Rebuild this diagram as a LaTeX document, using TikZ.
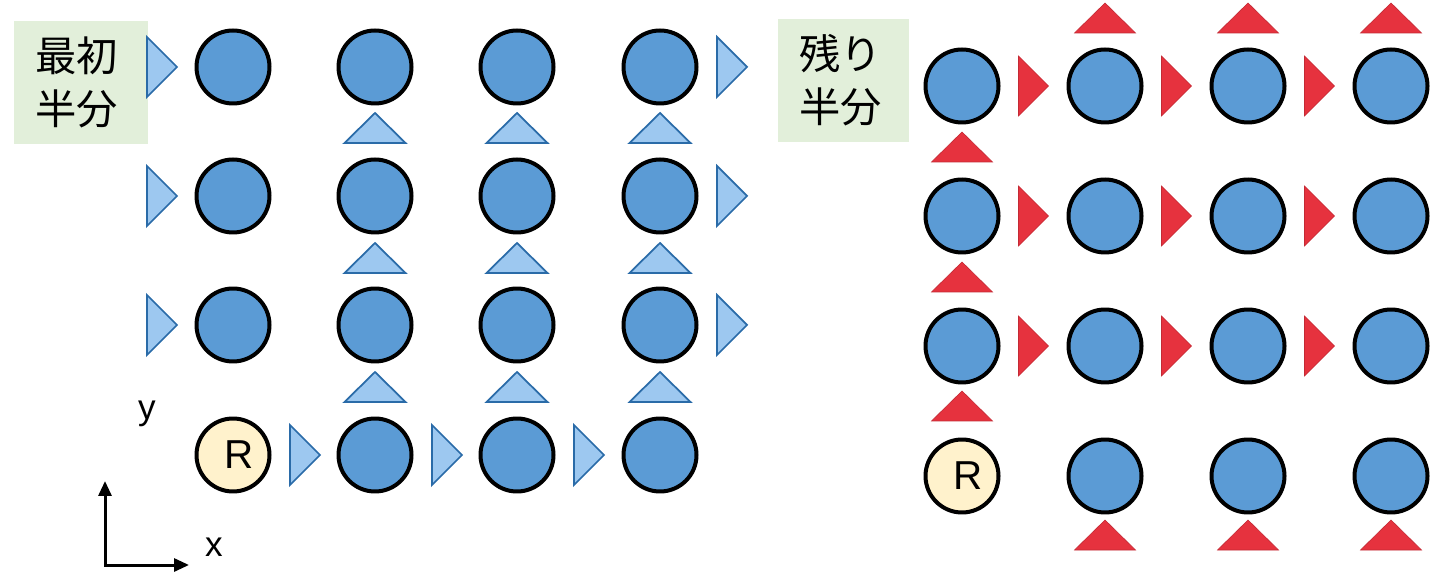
\documentclass[tikz,border=0pt]{standalone}
\usepackage{fontspec}
\setmainfont{Liberation Sans}
\newfontfamily\jpfont{Noto Sans CJK JP}
\usetikzlibrary{arrows.meta}
\definecolor{cblue}{HTML}{5B9BD5}
\definecolor{tblue}{HTML}{9DC8F0}
\definecolor{tbluedraw}{HTML}{2A6BA8}
\definecolor{tred}{HTML}{E6323E}
\definecolor{cream}{HTML}{FFF2CC}
\definecolor{boxgreen}{HTML}{E2EFDA}
\newcommand\RTri[3]{\path[#1,shift={(#2,#3)}] (-15,-30) -- (15,0) -- (-15,30) -- cycle;}
\newcommand\UTri[3]{\path[#1,shift={(#2,#3)}] (0,-15) -- (30.5,15) -- (-30.5,15) -- cycle;}
\begin{document}
\begin{tikzpicture}[x=0.02cm,y=-0.02cm,
  dot/.style={circle, draw=black, line width=0.08cm, fill=cblue, minimum size=1.46cm, inner sep=0pt},
  rdot/.style={dot, fill=cream, font=\fontsize{23}{23}\selectfont},
  bluetri/.style={fill=tblue, draw=tbluedraw, line width=0.035cm, line join=miter},
  redtri/.style={fill=tred, draw=tred!85!black, line width=0.012cm},
  titlebox/.style={rectangle, fill=boxgreen, minimum height=2.46cm, inner xsep=0.42cm, inner ysep=0pt,
    align=left, font=\jpfont\fontsize{23.5}{30}\selectfont},
  axislbl/.style={font=\fontsize{20}{20}\selectfont, inner sep=0pt}
]
\useasboundingbox (0,0) rectangle (1435,573);

% ---------- left half ----------
\node[titlebox, text width=1.84cm] (firsthalf) at (81,82.5) {最初\\半分};

\foreach \c/\x in {1/233,2/375,3/517,4/660}{
  \foreach \r/\y in {1/67,2/196,3/325}{
    \node[dot] (L\r\c) at (\x,\y) {};
  }
}
\node[rdot] (LR) at (233,455) {\hspace*{0.24cm}R};
\node[dot] (L42) at (375,455) {};
\node[dot] (L43) at (517,455) {};
\node[dot] (L44) at (660,455) {};

\foreach \y in {67,196,325}{
  \RTri{bluetri}{162}{\y}
  \RTri{bluetri}{732}{\y}
}
\RTri{bluetri}{305}{455}
\RTri{bluetri}{447}{455}
\RTri{bluetri}{589}{455}
\foreach \x in {375,517,660}{
  \foreach \y in {128,258,387}{
    \UTri{bluetri}{\x}{\y}
  }
}

% axes
\coordinate (O) at (105,565);
\coordinate (ytip) at (105,481);
\coordinate (xtip) at (189,565);
\draw[line width=0.06cm, {Triangle[length=0.3cm,width=0.26cm]}-{Triangle[length=0.3cm,width=0.26cm]}] (ytip) -- (O) -- (xtip);
\node[axislbl] (ylbl) at (147,414) {y};
\node[axislbl] (xlbl) at (214,547) {x};

% ---------- right half ----------
\node[titlebox, text width=1.78cm] (resthalf) at (843.5,80.5) {残り\\半分};

\foreach \c/\x in {1/962,2/1105,3/1248,4/1391}{
  \foreach \r/\y in {1/86,2/216,3/346}{
    \node[dot] (R\r\c) at (\x,\y) {};
  }
}
\node[rdot] (RR) at (962,476) {\hspace*{0.24cm}R};
\node[dot] (R42) at (1105,476) {};
\node[dot] (R43) at (1248,476) {};
\node[dot] (R44) at (1391,476) {};

\foreach \y in {86,216,346}{
  \foreach \x in {1033.5,1176.5,1319.5}{
    \RTri{redtri}{\x}{\y}
  }
}
\foreach \x in {1105,1248,1391}{
  \UTri{redtri}{\x}{18}
  \UTri{redtri}{\x}{535}
}
\foreach \y in {147,277,406}{
  \UTri{redtri}{962}{\y}
}
\end{tikzpicture}
\end{document}
